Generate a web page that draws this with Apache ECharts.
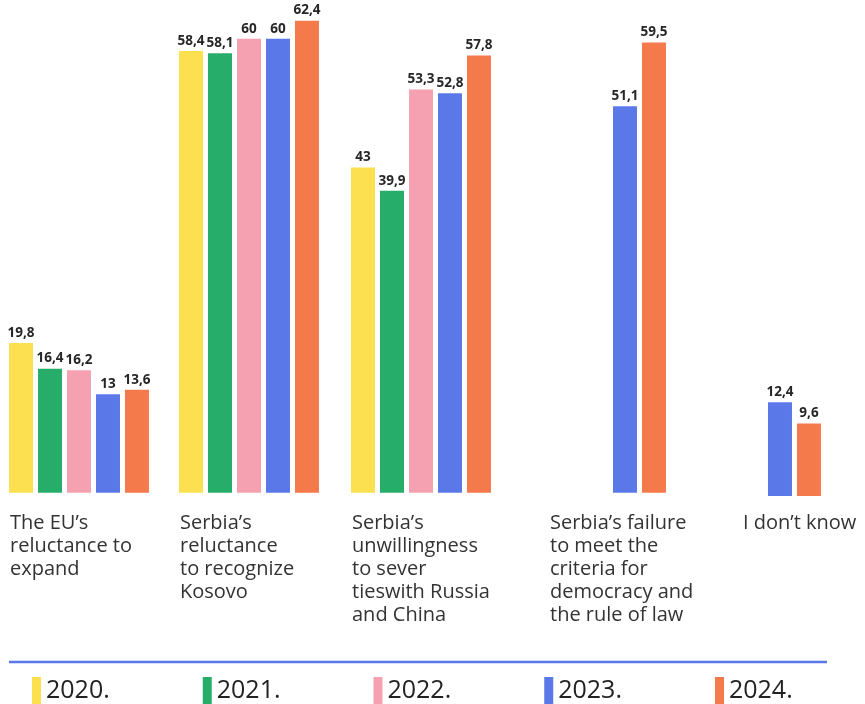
<!DOCTYPE html>
<html>
<head>
<meta charset="utf-8">
<title>Obstacles to Serbia's EU accession</title>
<script src="https://cdn.jsdelivr.net/npm/echarts@6/dist/echarts.min.js"></script>
<style>
  html, body { margin: 0; padding: 0; background: #ffffff; }
  #chart { width: 865px; height: 704px; }
</style>
</head>
<body>
<div id="chart"></div>
<script>
// Answer categories (line breaks as they wrap under each group)
const categories = [
  'The EU\u2019s\nreluctance to\nexpand',
  'Serbia\u2019s\nreluctance\nto recognize\nKosovo',
  'Serbia\u2019s\nunwillingness\nto sever\ntieswith Russia\nand China',
  'Serbia\u2019s failure\nto meet the\ncriteria for\ndemocracy and\nthe rule of law',
  'I don\u2019t know'
];

// Survey years (legend labels)
const years = ['2020.', '2021.', '2022.', '2023.', '2024.'];

// Share of respondents per category, one array per year (null = not asked)
const values2020 = [19.8, 58.4, 43, null, null];
const values2021 = [16.4, 58.1, 39.9, null, null];
const values2022 = [16.2, 60, 53.3, null, null];
const values2023 = [13, 60, 52.8, 51.1, 12.4];
const values2024 = [13.6, 62.4, 57.8, 59.5, 9.6];

const seriesValues = [values2020, values2021, values2022, values2023, values2024];
const colors = ['#FCE04F', '#27AD6A', '#F6A1B1', '#5B78E8', '#F47A4B'];

// Layout: each answer group gets its own grid so groups can sit at uneven spacing
const groupCenters = [79, 249, 421, 596, 751];
const groupBaselines = [492.7, 492.7, 492.7, 492.7, 496];
const labelLefts = [10, 180, 352, 550, 743];
const yMax = 65;
const pxPerUnit = 7.565;
const plotHeight = yMax * pxPerUnit;

const grids = [], xAxes = [], yAxes = [], series = [];
categories.forEach((cat, i) => {
  grids.push({
    left: groupCenters[i] - 75,
    width: 150,
    top: groupBaselines[i] - plotHeight,
    height: plotHeight,
    containLabel: false
  });
  xAxes.push({
    type: 'category', gridIndex: i, data: [cat],
    axisLine: { show: false }, axisTick: { show: false }, axisLabel: { show: false }
  });
  yAxes.push({
    type: 'value', gridIndex: i, min: 0, max: yMax,
    axisLine: { show: false }, axisTick: { show: false },
    axisLabel: { show: false }, splitLine: { show: false }
  });
  years.forEach((yr, j) => {
    series.push({
      type: 'bar',
      name: yr,
      xAxisIndex: i,
      yAxisIndex: i,
      data: [seriesValues[j][i]],
      barWidth: 24,
      barGap: '20.8%',
      itemStyle: { color: colors[j] },
      label: {
        show: true,
        position: 'top',
        distance: 3,
        color: '#262626',
        fontFamily: 'Open Sans',
        fontWeight: 'bold',
        fontSize: 13.5,
        formatter: p => String(p.value).replace('.', ',')
      }
    });
  });
});

const labelGraphics = categories.map((cat, i) => ({
  type: 'text',
  left: labelLefts[i],
  top: 512,
  style: {
    text: cat,
    fill: '#333333',
    font: '20px "Open Sans"',
    lineHeight: 23
  }
}));

const chart = echarts.init(document.getElementById('chart'), null, { renderer: 'canvas' });
chart.setOption({
  animation: false,
  grid: grids,
  xAxis: xAxes,
  yAxis: yAxes,
  series: series,
  legend: {
    data: years,
    left: 32,
    top: 677,
    padding: 0,
    icon: 'rect',
    itemWidth: 9,
    itemHeight: 27,
    itemGap: 93,
    selectedMode: false,
    textStyle: { fontFamily: 'Open Sans', fontSize: 25, color: '#222222' }
  },
  graphic: [
    {
      type: 'line',
      shape: { x1: 9, y1: 662, x2: 827, y2: 662 },
      style: { stroke: '#5B78E8', lineWidth: 2.5 }
    }
  ].concat(labelGraphics)
});
</script>
</body>
</html>
